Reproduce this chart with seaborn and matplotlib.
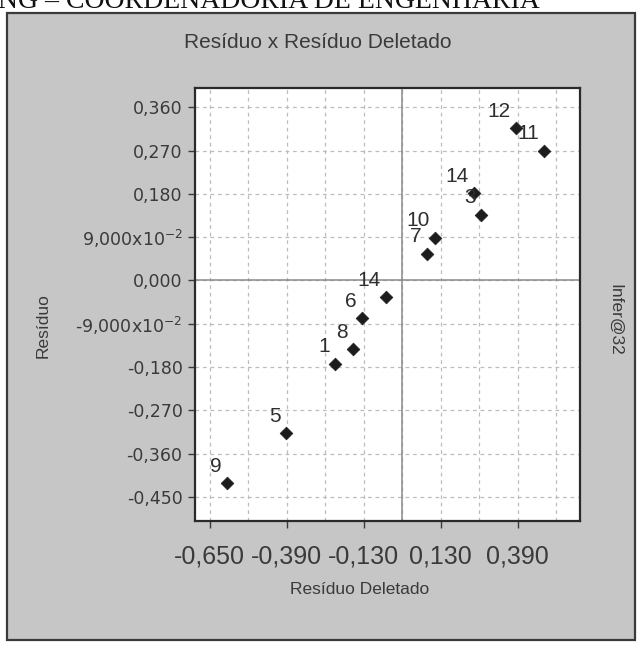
import numpy as np
import pandas as pd
import matplotlib
matplotlib.use("Agg")
import matplotlib.pyplot as plt
from matplotlib.patches import Rectangle
import seaborn as sns

# ---- data ----
point_labels = ["12", "11", "14", "3", "10", "7", "14", "6", "8", "1", "5", "9"]
residuo_deletado = [0.383, 0.478, 0.241, 0.265, 0.110, 0.083, -0.056, -0.137, -0.167, -0.228, -0.393, -0.593]
residuo = [0.316, 0.270, 0.181, 0.137, 0.089, 0.056, -0.035, -0.079, -0.143, -0.173, -0.318, -0.422]

x_ticks = [-0.65, -0.39, -0.13, 0.13, 0.39]
x_tick_labels = ["-0,650", "-0,390", "-0,130", "0,130", "0,390"]
y_ticks = [0.36, 0.27, 0.18, 0.09, 0.0, -0.09, -0.18, -0.27, -0.36, -0.45]
y_tick_labels = ["0,360", "0,270", "0,180", "9,000x10$^{-2}$", "0,000",
                 "-9,000x10$^{-2}$", "-0,180", "-0,270", "-0,360", "-0,450"]

df = pd.DataFrame({"Resíduo Deletado": residuo_deletado, "Resíduo": residuo, "label": point_labels})

sns.set_style("white")
plt.rcParams["font.family"] = ["Liberation Sans", "DejaVu Sans"]
plt.rcParams["mathtext.fontset"] = "custom"
plt.rcParams["mathtext.rm"] = "DejaVu Sans"
plt.rcParams["mathtext.it"] = "DejaVu Sans"
plt.rcParams["mathtext.bf"] = "DejaVu Sans"
plt.rcParams["mathtext.default"] = "rm"

W, H = 639, 647
fig = plt.figure(figsize=(W / 100, H / 100), dpi=100)
fig.patch.set_facecolor("white")

# gray chart panel
panel = Rectangle((7 / W, 1 - 640 / H), (635 - 7) / W, (640 - 13) / H,
                  transform=fig.transFigure, facecolor="#c6c6c6",
                  edgecolor="#3a3a3a", linewidth=1.6, zorder=-5)
fig.patches.append(panel)

# header text from the scanned page
fig.text(-2 / W, 1 - 8 / H, "NG – COORDENADORIA DE ENGENHARIA",
         family="Liberation Serif", fontsize=20, color="#111111",
         ha="left", va="baseline")

ax = fig.add_axes([195 / W, 1 - 521 / H, (580 - 195) / W, (521 - 88) / H])
ax.set_zorder(2)
ax.set_facecolor("white")

sns.scatterplot(data=df, x="Resíduo Deletado", y="Resíduo", ax=ax,
                marker="D", s=42, color="#1c1c1c", edgecolor="#1c1c1c",
                linewidth=0.5, zorder=5, legend=False)

for xv, yv, lab in zip(df["Resíduo Deletado"], df["Resíduo"], df["label"]):
    ax.annotate(lab, (xv, yv), xytext=(-5, 17), textcoords="offset pixels",
                ha="right", va="center", fontsize=15, color="#2e2e2e", zorder=6)

ax.set_xlim(-0.70, 0.60)
ax.set_ylim(-0.50, 0.40)

ax.set_xticks(x_ticks)
ax.set_xticklabels(x_tick_labels)
ax.set_yticks(y_ticks)
ax.set_yticklabels(y_tick_labels)
ax.set_xticks(np.arange(-0.65, 0.53, 0.13), minor=True)

ax.tick_params(axis="x", which="major", labelsize=18, colors="#3a3a3a",
               length=5, width=1, direction="out", pad=12, bottom=True)
ax.tick_params(axis="x", which="minor", length=0)
ax.tick_params(axis="y", which="major", labelsize=12.5, colors="#3a3a3a",
               length=5, width=1, direction="out", pad=4, left=True)
for lab in ax.get_yticklabels():
    lab.set_family("DejaVu Sans")

ax.grid(True, which="both", axis="x", linestyle=(0, (3, 3)), color="#bdbdbd", linewidth=0.9)
ax.grid(True, which="major", axis="y", linestyle=(0, (3, 3)), color="#bdbdbd", linewidth=0.9)
ax.axvline(0, color="#8a8a8a", linewidth=1.1, zorder=1)
ax.axhline(0, color="#8a8a8a", linewidth=1.1, zorder=1)
ax.set_axisbelow(True)

for sp in ax.spines.values():
    sp.set_color("#2a2a2a")
    sp.set_linewidth(1.6)

ax.set_xlabel("")
ax.set_ylabel("")

fig.text(318 / W, 1 - 43 / H, "Resíduo x Resíduo Deletado", fontsize=15,
         color="#3a3a3a", ha="center", va="center")
fig.text(360 / W, 1 - 589 / H, "Resíduo Deletado", fontsize=12.5,
         color="#3a3a3a", ha="center", va="center")
fig.text(43 / W, 1 - 326 / H, "Resíduo", fontsize=12.5, rotation=90,
         color="#3a3a3a", ha="center", va="center")
fig.text(615 / W, 1 - 320 / H, "Infer@32", fontsize=12.5, rotation=-90,
         color="#3a3a3a", ha="center", va="center")

fig.savefig("out.png", dpi=100)
